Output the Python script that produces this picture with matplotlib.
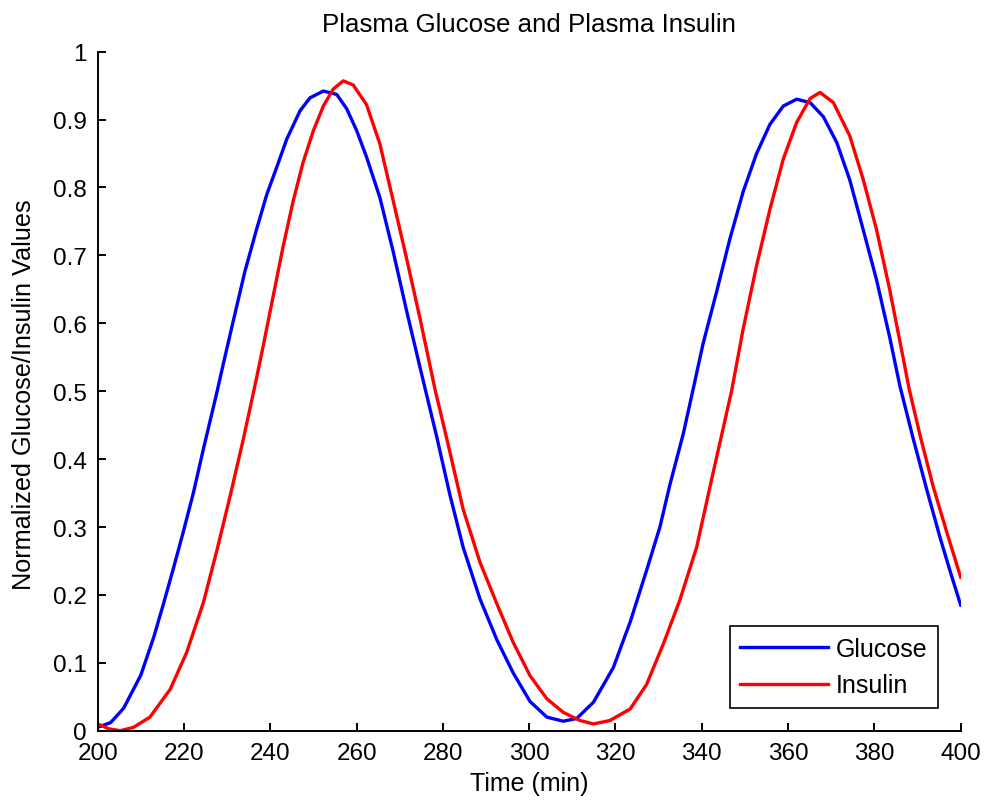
import matplotlib
matplotlib.use("Agg")
from matplotlib import pyplot as plt

# glucose trace, time (min) and normalized value
t_glucose = [200, 203, 206, 210, 213, 215.2, 217.5, 219.8, 222.2, 224.5,
             227.5, 229.1, 231.4, 234.1, 236.8, 239.2, 241.5, 243.8, 246.9, 249.2,
             252.3, 255.4, 257.7, 260.0, 262.3, 265.4, 268.5, 271.6, 274.7, 278.6,
             281.6, 284.7, 288.6, 292.5, 296.3, 300.2, 304.1, 307.9, 311.0, 314.9,
             319.5, 323.4, 327.2, 330.3, 332.6, 335.7, 338.0, 340.3, 343.5, 346.5,
             349.6, 352.7, 355.8, 358.9, 362.0, 365.1, 368.2, 371.3, 374.3, 377.4,
             380.5, 383.6, 385.9, 389.0, 392.1, 395.2, 397.5, 400]
glucose = [0.005, 0.012, 0.033, 0.082, 0.138, 0.186, 0.238, 0.292, 0.351, 0.415,
           0.495, 0.540, 0.603, 0.676, 0.738, 0.790, 0.830, 0.871, 0.913, 0.932,
           0.942, 0.937, 0.916, 0.884, 0.845, 0.785, 0.705, 0.618, 0.535, 0.432,
           0.348, 0.270, 0.194, 0.134, 0.085, 0.043, 0.020, 0.014, 0.018, 0.042,
           0.093, 0.160, 0.236, 0.300, 0.362, 0.437, 0.503, 0.570, 0.648, 0.724,
           0.794, 0.850, 0.893, 0.920, 0.930, 0.925, 0.904, 0.866, 0.811, 0.738,
           0.664, 0.578, 0.508, 0.430, 0.356, 0.285, 0.236, 0.185]

# insulin trace
t_insulin = [200, 202.5, 205.2, 208.3, 212.1, 216.8, 220.6, 224.5, 227.6, 230.7,
             233.7, 236.5, 238.4, 240.7, 243.0, 245.3, 247.6, 250.0, 252.3, 254.6,
             256.9, 259.2, 262.3, 265.4, 268.5, 271.6, 274.7, 278.2, 280.9, 284.7,
             288.6, 292.5, 296.3, 300.2, 304.1, 307.9, 311.8, 314.9, 318.7, 323.4,
             327.2, 331.1, 334.9, 338.8, 342.7, 346.9, 349.6, 352.7, 355.8, 358.9,
             362.0, 365.1, 367.4, 370.5, 374.3, 377.4, 380.5, 383.6, 386.7, 388.0,
             390.7, 393.7, 396.8, 400]
insulin = [0.010, 0.003, 0.000, 0.005, 0.020, 0.061, 0.115, 0.189, 0.265, 0.346,
           0.428, 0.510, 0.568, 0.641, 0.714, 0.780, 0.837, 0.884, 0.920, 0.945,
           0.957, 0.951, 0.922, 0.864, 0.780, 0.695, 0.607, 0.502, 0.430, 0.326,
           0.248, 0.187, 0.130, 0.081, 0.047, 0.027, 0.015, 0.010, 0.015, 0.032,
           0.068, 0.128, 0.192, 0.270, 0.382, 0.500, 0.592, 0.685, 0.768, 0.842,
           0.896, 0.931, 0.940, 0.925, 0.876, 0.812, 0.738, 0.648, 0.548, 0.505,
           0.432, 0.358, 0.292, 0.226]

x_ticks = [200, 220, 240, 260, 280, 300, 320, 340, 360, 380, 400]
y_ticks = [0, 0.1, 0.2, 0.3, 0.4, 0.5, 0.6, 0.7, 0.8, 0.9, 1]
y_ticklabels = ["0", "0.1", "0.2", "0.3", "0.4", "0.5", "0.6", "0.7", "0.8", "0.9", "1"]

plt.rcParams['font.family'] = ['Liberation Sans', 'DejaVu Sans']

fig = plt.figure(figsize=(9.85, 8.04), dpi=100)
ax = fig.add_axes([0.0992, 0.0899, 0.8761, 0.8446])

ax.plot(t_glucose, glucose, color=(0, 0, 1), lw=2.4, label="Glucose")
ax.plot(t_insulin, insulin, color=(1, 0, 0), lw=2.4, label="Insulin")

ax.set_xlim(200, 400)
ax.set_ylim(0, 1)
ax.set_xticks(x_ticks)
ax.set_yticks(y_ticks)
ax.set_yticklabels(y_ticklabels)

# only left/bottom axes, ticks pointing inward
ax.spines['top'].set_visible(False)
ax.spines['right'].set_visible(False)
for s in ('left', 'bottom'):
    ax.spines[s].set_linewidth(1.4)
ax.tick_params(direction='in', length=6, width=1.4, labelsize=17.5)
ax.tick_params(axis='x', pad=8)
ax.tick_params(axis='y', pad=8)

fig.text(0.537, 1 - 31.7 / 804, "Plasma Glucose and Plasma Insulin",
         ha='center', va='baseline', fontsize=18.6)
fig.text(0.537, 0.0249, "Time (min)", ha='center', va='center', fontsize=18)
fig.text(0.0244, 0.5087, "Normalized Glucose/Insulin Values", rotation=90,
         ha='center', va='center', fontsize=18.2)

leg = ax.legend(loc='lower right', bbox_to_anchor=(0.9733, 0.0334),
                borderaxespad=0, fontsize=18, fancybox=False, framealpha=1,
                edgecolor='black', handlelength=3.5, handletextpad=0.3,
                borderpad=0.43, labelspacing=0.5)
leg.get_frame().set_linewidth(1.2)

fig.savefig("out.png", dpi=100)
